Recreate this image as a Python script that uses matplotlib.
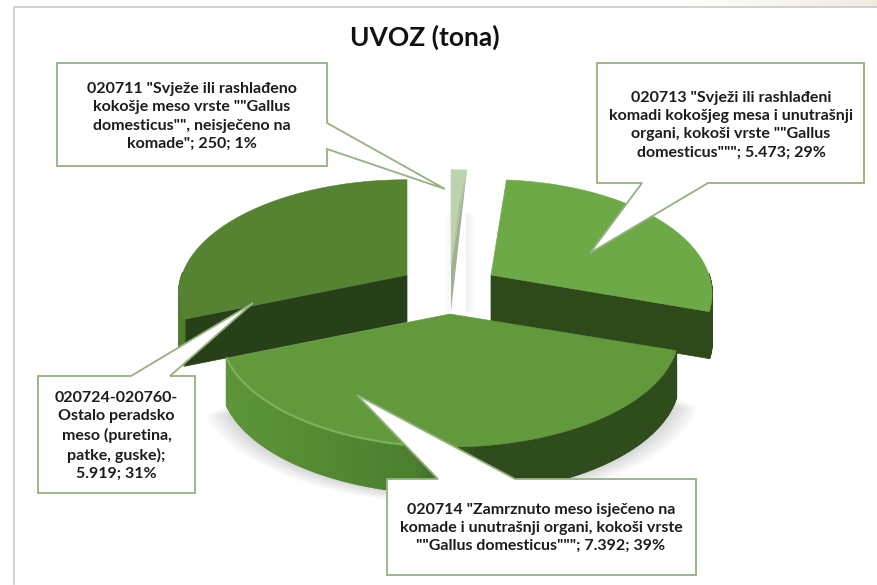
import numpy as np
import matplotlib
matplotlib.use('Agg')
import matplotlib.pyplot as plt
from matplotlib.patches import Polygon

plt.rcParams['font.family'] = ['Lato', 'DejaVu Sans']

# data
values = [250, 5473, 7392, 5919]
labels = ['020711 "Svježe ili rashlađeno\nkokošje meso vrste ""Gallus\ndomesticus"", neisječeno na\nkomade"; 250; 1%',
          '020713 "Svježi ili rashlađeni\nkomadi kokošjeg mesa i unutrašnji\norgani, kokoši vrste ""Gallus\ndomesticus"""; 5.473; 29%',
          '020714 "Zamrznuto meso isječeno na\nkomade i unutrašnji organi, kokoši vrste\n""Gallus domesticus"""; 7.392; 39%',
          '020724-020760-\nOstalo peradsko\nmeso (puretina,\npatke, guske);\n5.919; 31%']
title = 'UVOZ (tona)'

# styling, one entry per slice
tips = [(451, 265), (491, 275), (450, 314), (407, 275)]
radius_x = [225, 218, 226, 225]
top_colors = ['#bdd3ae', '#6ea947', '#62993c', '#558332']
side_colors = ['#9fb192', '#2e4a1b', '#2e4a1b', '#27401a']
rim_left = ['#9fb192', '#2e4a1b', '#5c9638', '#4f7d2d']
start_angle = 0
depth = 47
persp = 0.165
ry = 111


def project(theta, tip, rx):
    c = -np.cos(np.radians(theta))
    return (tip[0] + rx * np.sin(np.radians(theta)) / (1 - persp * c),
            tip[1] + ry * c / (1 - persp * c))


def hex2rgb(h):
    return np.array(matplotlib.colors.to_rgb(h))


fig = plt.figure(figsize=(8.77, 5.85), dpi=100)
ax = fig.add_axes([0, 0, 1, 1])

# slide frame
ax.imshow(np.linspace(0, 1, 100)[None, :], extent=(680, 877, 7, 0), aspect='auto', zorder=0,
          cmap=matplotlib.colors.LinearSegmentedColormap.from_list('b', ['#ffffff', '#efebe0']))
ax.set_xlim(0, 877)
ax.set_ylim(585, 0)
ax.axis('off')
ax.plot([13.5, 13.5, 877], [584, 7, 7], color='#c9c9c5', lw=1.2)

fractions = np.array(values) / sum(values)
edges = start_angle + np.concatenate([[0], np.cumsum(fractions)]) * 360

# faint shadows in the gap round the small slice
for i in range(7):
    ax.fill_between([446 + i, 450], 213, 312, color='#000000', alpha=0.008, lw=0, zorder=1)
    ax.fill_between([466, 474 - i], 213, 312, color='#000000', alpha=0.008, lw=0, zorder=1)

# soft shadow under the big slice
th3 = np.linspace(edges[2], edges[3], 120)
pts3 = np.array([project(t, tips[2], radius_x[2]) for t in th3])
for i in range(9):
    grow = 1 + i * 0.012
    sh = np.column_stack([tips[2][0] + (pts3[:, 0] - tips[2][0]) * grow, pts3[:, 1] + depth + i * 1.2])
    ax.add_patch(Polygon(sh, closed=True, fc='#000000', ec='none', alpha=0.018, zorder=1))

# back to front: small slice, left and right slices, then the big one
for n, z in [(0, 3), (3, 4), (1, 4), (2, 6)]:
    tip = tips[n]
    rx = radius_x[n]
    th = np.linspace(edges[n], edges[n + 1], 160)
    pts = np.array([project(t, tip, rx) for t in th])

    if n == 0:
        # only the thin cut face shows below the top of this slice
        lo = project(edges[1], tip, rx)
        ax.add_patch(Polygon([lo, (tip[0], tip[1]), (tip[0], tip[1] + 46)], closed=True,
                             fc=side_colors[0], ec='none', zorder=z))
    if n in (1, 3):
        # cut face towards the viewer
        end = edges[n + 1] if n == 1 else edges[n]
        p = project(end, tip, rx)
        ax.add_patch(Polygon([tip, p, (p[0], p[1] + depth), (tip[0], tip[1] + depth)], closed=True,
                             fc=side_colors[n], ec=side_colors[n], lw=0.5, zorder=z))

    # outer rim, only where it faces the viewer
    for a, b, t0, t1 in zip(pts[:-1], pts[1:], th[:-1], th[1:]):
        if np.cos(np.radians(t0)) < 0.02 or n == 3 and t0 < 270:
            f = (a[0] - pts[:, 0].min()) / (pts[:, 0].max() - pts[:, 0].min())
            if n == 2:
                if f < 0.42:
                    col = hex2rgb('#5c9638') * (1 - f / 0.42) + hex2rgb('#4c7f2e') * f / 0.42
                elif f < 0.56:
                    g = (f - 0.42) / 0.14
                    col = hex2rgb('#4c7f2e') * (1 - g) + hex2rgb('#2f4c1c') * g
                else:
                    col = hex2rgb('#2f4c1c')
            else:
                col = hex2rgb(rim_left[n])
            ax.add_patch(Polygon([a, b, (b[0], b[1] + depth), (a[0], a[1] + depth)], closed=True,
                                 fc=col, ec=col, lw=1.2, zorder=z))

    top = np.vstack([[tip], pts])
    ax.add_patch(Polygon(top, closed=True, fc=top_colors[n], ec=top_colors[n], lw=0.4, zorder=z + 0.5))

    if n == 0:
        ax.add_patch(Polygon([project(edges[1], tip, rx), tip, (tip[0] + 8, tip[1] - 60)], closed=True,
                             fc=side_colors[0], ec='none', alpha=0.6, zorder=z + 0.6))
    if n == 2:
        # light edge on the front rim
        lit = pts[pts[:, 0] < 405]
        ax.plot(lit[:, 0], lit[:, 1], color='#86b860', lw=1.6, alpha=0.8, zorder=z + 0.6,
                solid_capstyle='round')

# callouts: box corners then tail
callouts = [
    [(57, 63), (327, 63), (327, 123), (445, 189), (327, 149), (327, 166), (57, 166)],
    [(597, 63), (864, 63), (864, 183), (708, 183), (590, 253), (642, 183), (597, 183)],
    [(387, 479), (438, 479), (357, 395), (515, 479), (696, 479), (696, 575), (387, 575)],
    [(38, 376), (131, 376), (253, 303), (170, 376), (195, 376), (195, 493), (38, 493)],
]
text_pos = [(192, 116.5), (731, 125), (541, 528), (116.5, 436)]
for shape, pos, lab in zip(callouts, text_pos, labels):
    ax.add_patch(Polygon(shape, closed=True, fc='white', ec='#93b27e', lw=1.3, zorder=10))
    ax.text(pos[0], pos[1], lab, ha='center', va='center', fontsize=11.5, fontweight='bold',
            color='#1c1c1c', linespacing=1.39, zorder=11)

ax.text(425, 37, title, ha='center', va='center', fontsize=19, fontweight='bold', color='#111111')

fig.savefig('out.png', dpi=100)
